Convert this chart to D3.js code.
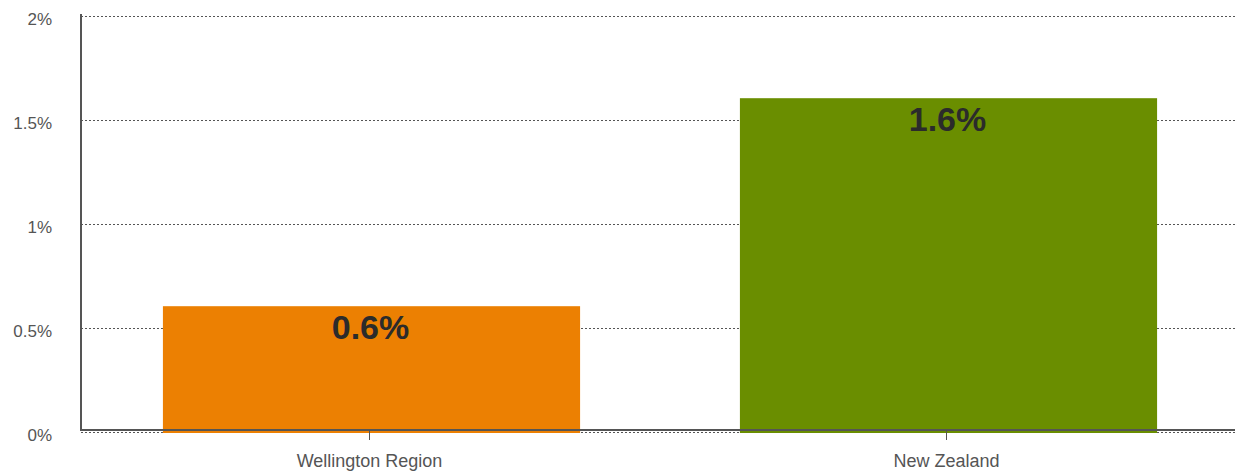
<!DOCTYPE html>
<html>
<head>
<meta charset="utf-8">
<script src="https://cdn.jsdelivr.net/npm/d3@7"></script>
<style>
  body { margin: 0; background: #fff; }
  svg { display: block; font-family: "Liberation Sans", Arial, sans-serif; }
  .grid line { stroke: #555; stroke-dasharray: 2,2; }
  .grid .domain { display: none; }
</style>
</head>
<body>
<svg width="1235" height="472"></svg>
<script>
var categories = ["Wellington Region", "New Zealand"];
var values = [0.6, 1.6];
var colors = ["#ec8002", "#6a8e00"];
var yTicks = [0, 0.5, 1, 1.5, 2];
var yTickLabels = ["0%", "0.5%", "1%", "1.5%", "2%"];

var svg = d3.select("svg");
var margin = {top: 15, right: 0, bottom: 41, left: 81},
    width = +svg.attr("width") - margin.left - margin.right,
    height = +svg.attr("height") - margin.top - margin.bottom;

var x = d3.scaleBand().domain(categories).range([0, width]).padding(0);
var y = d3.scaleLinear().domain([0, 2]).range([height, 0]);
var barW = x.bandwidth() * 0.723;

var g = svg.append("g")
    .attr("transform", "translate(" + margin.left + "," + margin.top + ")");

// dotted gridlines
g.append("g")
    .attr("class", "grid")
    .call(d3.axisLeft(y).tickValues(yTicks).tickSize(-width).tickFormat(""))
    .selectAll("line").attr("shape-rendering", "crispEdges")
    .attr("transform", "translate(0,0.5)");

// y labels
g.selectAll(".ylab")
    .data(yTicks)
  .enter().append("text")
    .attr("class", "ylab")
    .attr("x", -29)
    .attr("y", function(d) { return y(d) + 10; })
    .attr("text-anchor", "end")
    .attr("font-size", 17)
    .attr("fill", "#555")
    .text(function(d, i) { return yTickLabels[i]; });

// bars
g.selectAll(".bar")
    .data(values)
  .enter().append("rect")
    .attr("class", "bar")
    .attr("x", function(d, i) { return x(categories[i]) + (x.bandwidth() - barW) / 2 + 2; })
    .attr("width", barW)
    .attr("y", function(d) { return y(d); })
    .attr("height", function(d) { return y(0) - y(d) + 2; })
    .attr("fill", function(d, i) { return colors[i]; });

// value labels
g.selectAll(".val")
    .data(values)
  .enter().append("text")
    .attr("class", "val")
    .attr("x", function(d, i) { return x(categories[i]) + x.bandwidth() / 2 + 1; })
    .attr("y", function(d) { return y(d) + 33; })
    .attr("text-anchor", "middle")
    .attr("font-size", 34)
    .attr("font-weight", "bold")
    .attr("fill", "#2b2b2b")
    .text(function(d) { return d.toFixed(1) + "%"; });

// axis lines
g.append("line")
    .attr("x1", 0).attr("x2", 0).attr("y1", -1).attr("y2", height)
    .attr("stroke", "#555").attr("stroke-width", 2);
g.append("line")
    .attr("x1", 0).attr("x2", width).attr("y1", height - 1).attr("y2", height - 1)
    .attr("stroke", "#555").attr("stroke-width", 2);

// x axis ticks and labels
var xa = g.append("g")
    .attr("transform", "translate(0," + height + ")")
    .call(d3.axisBottom(x).tickSize(9).tickSizeOuter(0));
xa.select(".domain").remove();
xa.selectAll("line").attr("stroke", "#555");
xa.selectAll("text")
    .attr("y", 36)
    .attr("dy", null)
    .attr("font-size", 18)
    .attr("font-family", "Liberation Sans, Arial, sans-serif")
    .attr("fill", "#555");
</script>
</body>
</html>
